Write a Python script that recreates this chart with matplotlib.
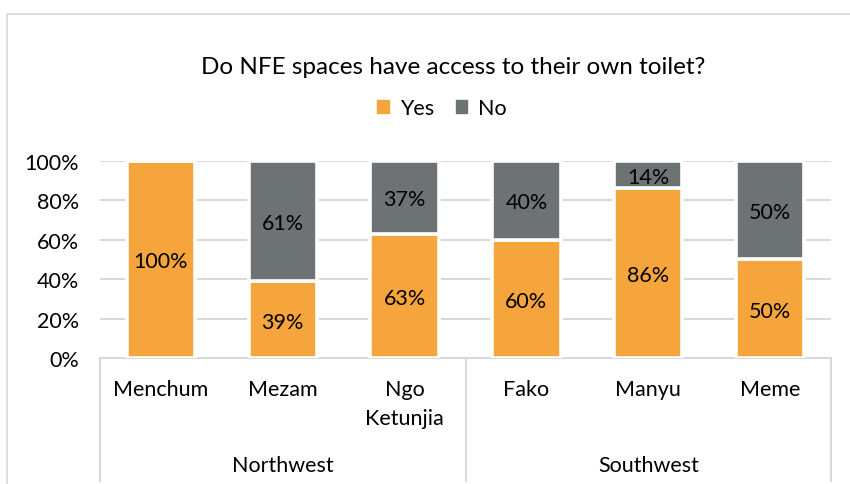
import matplotlib
matplotlib.use("Agg")
import matplotlib.pyplot as plt
from matplotlib.patches import Rectangle
from matplotlib.lines import Line2D
import matplotlib.transforms as mtransforms

plt.rcParams['font.family'] = ['Lato', 'DejaVu Sans']

title = "Do NFE spaces have access to their own toilet?"
districts = ["Menchum", "Mezam", "Ngo\nKetunjia", "Fako", "Manyu", "Meme"]
regions = ["Northwest", "Southwest"]
region_sizes = [3, 3]
yes = [100, 39, 63, 60, 86, 50]
no = [0, 61, 37, 40, 14, 50]
yticks = [0, 20, 40, 60, 80, 100]

c_yes = "#F5A53B"
c_no = "#6D7274"
grid_c = "#D9D9D9"

W, H = 850, 485
fig = plt.figure(figsize=(W / 100, H / 100), dpi=100)
FS = 15.5

def fx(px):
    return px / W

def fy(py):
    return 1 - py / H

# chart border
fig.patches.append(Rectangle((fx(6.5), -0.1), 1.2, fy(15) + 0.1, transform=fig.transFigure,
                             fill=False, edgecolor=grid_c, linewidth=1.2, zorder=0))

ax = fig.add_axes([fx(100), fy(359), fx(831) - fx(100), fy(161.7) - fy(359)])
x = list(range(len(districts)))
bw = 0.56
ax.bar(x, [v / 100 for v in yes], width=bw, color=c_yes, edgecolor="white", linewidth=2.6, zorder=3)
ax.bar(x, [v / 100 for v in no], bottom=[v / 100 for v in yes], width=bw, color=c_no,
       edgecolor="white", linewidth=2.6, zorder=3)

for i in x:
    if yes[i] > 0:
        ax.text(i, yes[i] / 200, f"{yes[i]}%", ha="center", va="center_baseline", fontsize=FS,
                color="#000000", zorder=4)
    if no[i] > 0:
        ax.text(i, (yes[i] + no[i] / 2) / 100, f"{no[i]}%", ha="center", va="center_baseline", fontsize=FS,
                color="#000000", zorder=4)

ax.set_xlim(-0.5, len(districts) - 0.5)
ax.set_ylim(0, 1)
ax.set_yticks([t / 100 for t in yticks])
ax.set_yticklabels([f"{t}%" for t in yticks], fontsize=FS)
ax.tick_params(axis="y", length=0, pad=15)
ax.tick_params(axis="x", length=0, labelbottom=False)
ax.grid(axis="y", color=grid_c, linewidth=1.5, zorder=0)
ax.set_axisbelow(True)
for s in ["top", "right", "left"]:
    ax.spines[s].set_visible(False)
ax.spines["bottom"].set_color(grid_c)
ax.spines["bottom"].set_linewidth(1.5)

# multi-level category axis
tr = mtransforms.blended_transform_factory(ax.transData, fig.transFigure)
for i, d in enumerate(districts):
    ax.text(i, fy(380), d, transform=tr, ha="center", va="top", fontsize=FS, linespacing=1.55)

bounds = [-0.5]
for n in region_sizes:
    bounds.append(bounds[-1] + n)
for b in bounds:
    fig.lines.append(Line2D([b, b], [fy(359), fy(482)], transform=tr, color=grid_c, linewidth=1.5))
for k, r in enumerate(regions):
    cx = (bounds[k] + bounds[k + 1]) / 2
    ax.text(cx, fy(466), r, transform=tr, ha="center", va="center", fontsize=FS)

fig.text(fx(453), fy(68), title, ha="center", va="center", fontsize=17.5)

# legend
handles = [Rectangle((0, 0), 1, 1, color=c_yes), Rectangle((0, 0), 1, 1, color=c_no)]
fig.legend(handles, ["Yes", "No"], loc="center", bbox_to_anchor=(fx(442), fy(109)), ncol=2, frameon=False,
           fontsize=FS, handlelength=0.55, handleheight=0.55, handletextpad=0.5, columnspacing=1.0)

fig.savefig("out.png", dpi=100)
